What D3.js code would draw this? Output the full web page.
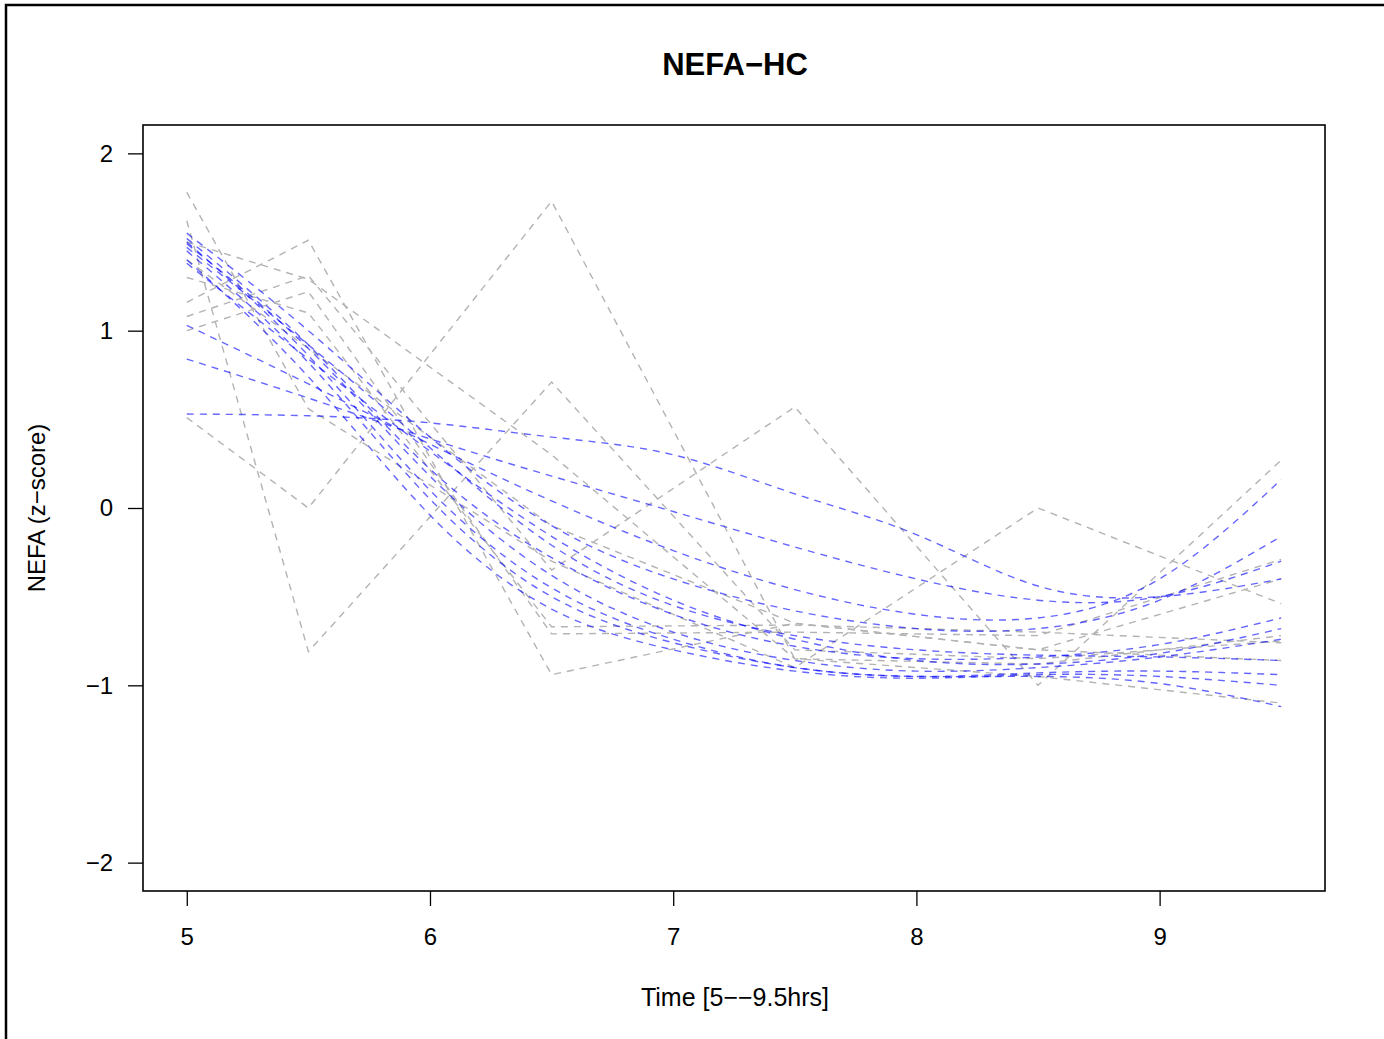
<!DOCTYPE html>
<html>
<head>
    <title>NEFA-HC</title>
    <meta charset="utf-8">
    <style type="text/css">
        body{
            margin:0;
            background:#fff;
        }
        svg text{
            font-family: "Liberation Sans", Arial, Helvetica, sans-serif;
            fill:#000;
        }
    </style>
</head>
<body>

<div id="chart"></div>

<script src="https://cdnjs.cloudflare.com/ajax/libs/d3/7.8.5/d3.min.js"></script>
<script type="text/javascript">

// raw measurements (gray), one row per subject
var rawTimes = [5, 5.5, 6.5, 7.5, 8.5, 9.5];
var raw1 = [1.62, -0.81, 0.71, -0.80, -0.85, -0.75];
var raw2 = [0.51, 0.00, 1.73, -0.85, -0.88, -0.72];
var raw3 = [1.16, 1.51, -0.94, -0.65, -0.80, -0.86];
var raw4 = [1.78, 0.56, -0.30, -0.90, 0.00, -0.54];
var raw5 = [1.08, 1.31, -0.35, 0.57, -1.00, 0.27];
var raw6 = [1.00, 1.22, -0.71, -0.70, -0.72, -0.29];
var raw7 = [1.50, 1.29, 0.30, -0.85, -0.95, -1.10];
var raw8 = [1.40, 0.90, -0.10, -0.65, -0.80, -0.40];
var raw9 = [1.30, 1.10, -0.67, -0.66, -0.70, -0.76];

// fitted curves (blue), read at half hour steps
var fitTimes = [5, 5.5, 6, 6.5, 7, 7.5, 8, 8.5, 9, 9.5];
var fit1  = [0.53, 0.52, 0.48, 0.40, 0.30, 0.08, -0.15, -0.44, -0.50, -0.40];
var fit2  = [0.84, 0.62, 0.39, 0.18, -0.02, -0.22, -0.40, -0.52, -0.50, -0.30];
var fit3  = [1.03, 0.70, 0.36, 0.04, -0.24, -0.46, -0.60, -0.62, -0.40, 0.16];
var fit4  = [1.55, 1.00, 0.40, -0.10, -0.40, -0.58, -0.68, -0.68, -0.52, -0.16];
var fit5  = [1.52, 0.92, 0.22, -0.28, -0.60, -0.78, -0.85, -0.84, -0.77, -0.62];
var fit6  = [1.49, 0.90, 0.18, -0.38, -0.70, -0.86, -0.92, -0.90, -0.84, -0.74];
var fit7  = [1.45, 0.82, 0.05, -0.50, -0.76, -0.90, -0.95, -0.93, -0.92, -0.94];
var fit8  = [1.40, 0.74, -0.04, -0.57, -0.80, -0.92, -0.96, -0.94, -0.95, -1.00];
var fit9  = [1.50, 0.86, 0.10, -0.45, -0.74, -0.90, -0.95, -0.95, -0.99, -1.12];
var fit10 = [1.38, 0.84, 0.32, -0.16, -0.52, -0.74, -0.86, -0.88, -0.82, -0.68];
var fit11 = [1.47, 0.92, 0.34, -0.21, -0.55, -0.72, -0.80, -0.83, -0.84, -0.86];

var xTicks = [5, 6, 7, 8, 9];
var yTicks = [-2, -1, 0, 1, 2];

var rawSeries = [raw1, raw2, raw3, raw4, raw5, raw6, raw7, raw8, raw9];
var fitSeries = [fit1, fit2, fit3, fit4, fit5, fit6, fit7, fit8, fit9, fit10, fit11];


var width  = 1384,
    height = 1039,
    box    = {left:143, right:1325, top:125, bottom:891};

function minus(s){ return String(s).replace('-', '\u2212') }

var svg = d3.select('#chart')
    .append('svg')
    .attr('width', width)
    .attr('height', height);

svg.append('rect')
    .attr('width', width)
    .attr('height', height)
    .attr('fill', '#fff');

// outer frame (only top + left are inside the picture)
svg.append('rect')
    .attr('x', 6)
    .attr('y', 5)
    .attr('width', width + 50)
    .attr('height', height + 50)
    .attr('fill', 'none')
    .attr('stroke', '#000')
    .attr('stroke-width', 2.5);

// R style 4% padding around xlim / ylim
var x = d3.scaleLinear()
    .domain([5 - 0.18, 9.5 + 0.18])
    .range([box.left, box.right]);

var y = d3.scaleLinear()
    .domain([-2.16, 2.16])
    .range([box.bottom, box.top]);

var plot = svg.append('g');

var rawLine = d3.line()
    .x(function(d, i){ return x(rawTimes[i]) })
    .y(function(d){ return y(d) });

var fitLine = d3.line()
    .x(function(d, i){ return x(fitTimes[i]) })
    .y(function(d){ return y(d) })
    .curve(d3.curveNatural);

plot.selectAll('.raw')
    .data(rawSeries)
    .enter().append('path')
    .attr('class', 'raw')
    .attr('d', rawLine)
    .attr('fill', 'none')
    .attr('stroke', '#b3b3b3')
    .attr('stroke-width', 1.4)
    .attr('stroke-dasharray', '7,6');

plot.selectAll('.fit')
    .data(fitSeries)
    .enter().append('path')
    .attr('class', 'fit')
    .attr('d', fitLine)
    .attr('fill', 'none')
    .attr('stroke', '#0000ff')
    .attr('stroke-opacity', 0.6)
    .attr('stroke-width', 1.4)
    .attr('stroke-dasharray', '7,6');

// axes
var xAxis = d3.axisBottom(x)
    .tickValues(xTicks)
    .tickSize(15)
    .tickPadding(22)
    .tickFormat(d3.format('d'));

var yAxis = d3.axisLeft(y)
    .tickValues(yTicks)
    .tickSize(15)
    .tickPadding(15)
    .tickFormat(function(d){ return minus(d) });

var gx = svg.append('g')
    .attr('transform', 'translate(0,' + box.bottom + ')')
    .call(xAxis);

var gy = svg.append('g')
    .attr('transform', 'translate(' + box.left + ',0)')
    .call(yAxis);

[gx, gy].forEach(function(g){
    g.select('.domain').remove();
    g.selectAll('line').attr('stroke', '#000').attr('stroke-width', 1.3);
    g.selectAll('text')
        .attr('font-size', 24)
        .attr('font-family', '"Liberation Sans", Arial, sans-serif')
        .attr('fill', '#000');
});

// box
svg.append('rect')
    .attr('x', box.left)
    .attr('y', box.top)
    .attr('width', box.right - box.left)
    .attr('height', box.bottom - box.top)
    .attr('fill', 'none')
    .attr('stroke', '#000')
    .attr('stroke-width', 1.6);

// titles
svg.append('text')
    .attr('x', 735)
    .attr('y', 75)
    .attr('text-anchor', 'middle')
    .attr('font-size', 31)
    .attr('font-weight', 'bold')
    .text('NEFA\u2212HC');

svg.append('text')
    .attr('x', 735)
    .attr('y', 1006)
    .attr('text-anchor', 'middle')
    .attr('font-size', 25)
    .text('Time [5\u2212\u22129.5hrs]');

svg.append('text')
    .attr('transform', 'translate(45,508) rotate(-90)')
    .attr('text-anchor', 'middle')
    .attr('font-size', 24)
    .text('NEFA (z\u2212score)');

</script>

</body>
</html>
